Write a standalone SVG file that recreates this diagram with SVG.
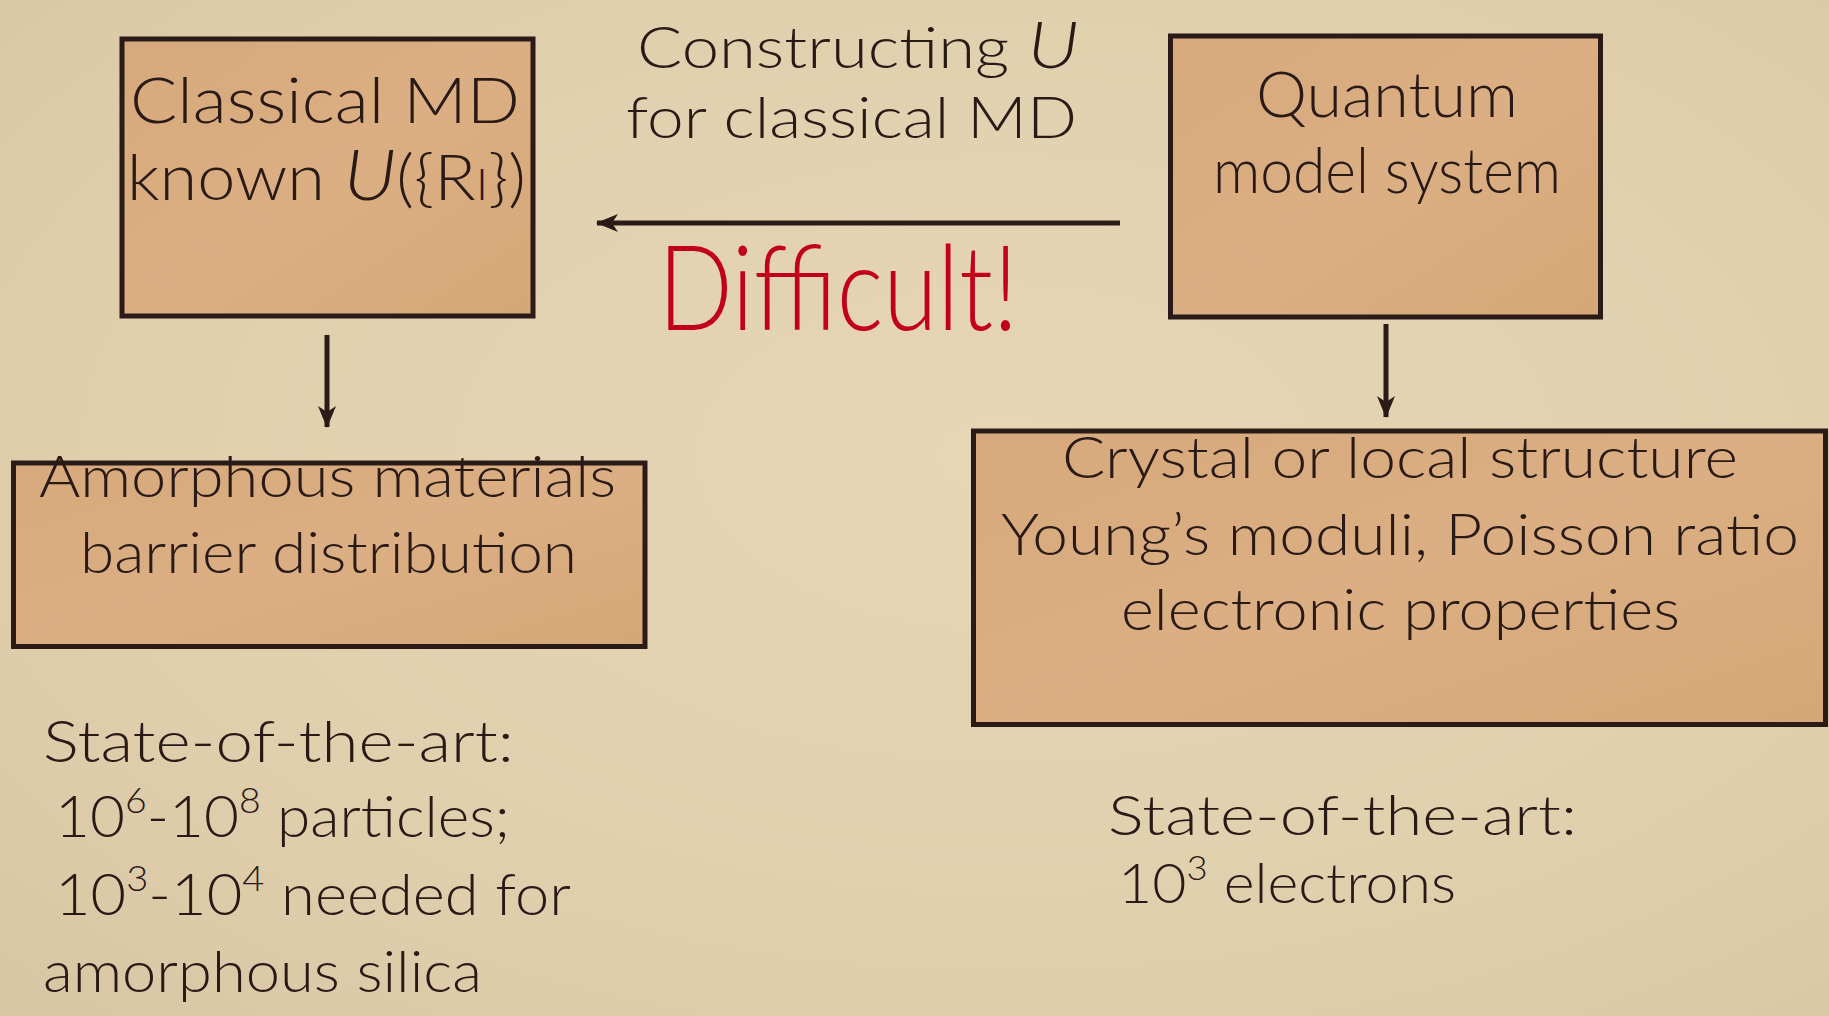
<svg xmlns="http://www.w3.org/2000/svg" width="1829" height="1016" viewBox="0 0 1829 1016">
<defs>
  <radialGradient id="bg" cx="55%" cy="45%" r="75%">
    <stop offset="0" stop-color="#E6D6B6"/>
    <stop offset="0.6" stop-color="#E1D0AE"/>
    <stop offset="1" stop-color="#D9C6A4"/>
  </radialGradient>
  <linearGradient id="boxfill" x1="0" y1="0" x2="1" y2="1">
    <stop offset="0" stop-color="#D7A97D"/>
    <stop offset="0.5" stop-color="#DBAF83"/>
    <stop offset="1" stop-color="#D5A778"/>
  </linearGradient>
  <marker id="ah" markerUnits="userSpaceOnUse" markerWidth="22" markerHeight="18" refX="21" refY="9" orient="auto" viewBox="0 0 22 18">
    <path d="M0,0 L22,9 L0,18 L6,9 Z" fill="#2B1B18"/>
  </marker>
  <style>
    .box { fill: url(#boxfill); stroke: #2B1B18; stroke-width: 5; }
    .t { font-family: Lato, "Open Sans", "Liberation Sans", sans-serif; font-weight: 300; fill: #2A1A16; }
    .red { font-family: Lato, "Open Sans", "Liberation Sans", sans-serif; font-weight: 300; fill: #C2001C; }
    .it { font-style: italic; }
    .conn { stroke: #2B1B18; stroke-width: 5; fill: none; marker-end: url(#ah); }
  </style>
</defs>
<rect x="0" y="0" width="1829" height="1016" fill="url(#bg)"/>

<g id="classical-md">
  <rect class="box" x="122" y="39" width="411" height="277"/>
  <text class="t" x="130" y="123" font-size="63" textLength="390" lengthAdjust="spacingAndGlyphs">Classical MD</text>
  <text class="t" x="127" y="200" font-size="63" textLength="399" lengthAdjust="spacingAndGlyphs">known <tspan class="it" font-size="72">U</tspan>({R<tspan font-size="44">I</tspan>})</text>
</g>

<g id="quantum">
  <rect class="box" x="1170.5" y="36" width="430" height="281"/>
  <text class="t" x="1256" y="117" font-size="64" textLength="262" lengthAdjust="spacingAndGlyphs">Quantum</text>
  <text class="t" x="1213" y="193" font-size="64" textLength="348" lengthAdjust="spacingAndGlyphs">model system</text>
</g>

<g id="amorphous">
  <rect class="box" x="13.5" y="463" width="631.5" height="183.5"/>
  <text class="t" x="39" y="497" font-size="58" textLength="577" lengthAdjust="spacingAndGlyphs">Amorphous materials</text>
  <text class="t" x="80" y="573" font-size="58" textLength="497" lengthAdjust="spacingAndGlyphs">barrier distribution</text>
</g>

<g id="crystal">
  <rect class="box" x="973.5" y="431" width="852" height="293.5"/>
  <text class="t" x="1062" y="478" font-size="58" textLength="676" lengthAdjust="spacingAndGlyphs">Crystal or local structure</text>
  <text class="t" x="1001" y="555" font-size="58" textLength="798" lengthAdjust="spacingAndGlyphs">Young’s moduli, Poisson ratio</text>
  <text class="t" x="1121" y="630" font-size="58" textLength="559" lengthAdjust="spacingAndGlyphs">electronic properties</text>
</g>

<g id="constructing-label">
  <text class="t" x="637" y="68" font-size="58" textLength="442" lengthAdjust="spacingAndGlyphs">Constructing <tspan class="it" font-size="66">U</tspan></text>
  <text class="t" x="626" y="138" font-size="58" textLength="451" lengthAdjust="spacingAndGlyphs">for classical MD</text>
</g>

<g id="difficult-label">
  <text class="red" x="658" y="330" font-size="118" textLength="360" lengthAdjust="spacingAndGlyphs">Difficult!</text>
</g>

<g id="left-notes">
  <text class="t" x="43" y="762" font-size="58" textLength="471" lengthAdjust="spacingAndGlyphs">State-of-the-art:</text>
  <text class="t" x="55" y="837" font-size="58" textLength="455" lengthAdjust="spacingAndGlyphs">10<tspan font-size="36" dy="-24">6</tspan><tspan dy="24">-10</tspan><tspan font-size="36" dy="-24">8</tspan><tspan dy="24"> particles;</tspan></text>
  <text class="t" x="55" y="915" font-size="58" textLength="516" lengthAdjust="spacingAndGlyphs">10<tspan font-size="36" dy="-24">3</tspan><tspan dy="24">-10</tspan><tspan font-size="36" dy="-24">4</tspan><tspan dy="24"> needed for</tspan></text>
  <text class="t" x="43" y="992" font-size="58" textLength="439" lengthAdjust="spacingAndGlyphs">amorphous silica</text>
</g>

<g id="right-notes">
  <text class="t" x="1108" y="835" font-size="55" textLength="469" lengthAdjust="spacingAndGlyphs">State-of-the-art:</text>
  <text class="t" x="1118" y="903" font-size="55" textLength="338" lengthAdjust="spacingAndGlyphs">10<tspan font-size="34" dy="-23">3</tspan><tspan dy="23"> electrons</tspan></text>
</g>

<g id="connectors">
  <line class="conn" x1="1120" y1="223" x2="597" y2="223"/>
  <line class="conn" x1="327" y1="335" x2="327" y2="427"/>
  <line class="conn" x1="1386" y1="324" x2="1386" y2="417"/>
</g>
</svg>
